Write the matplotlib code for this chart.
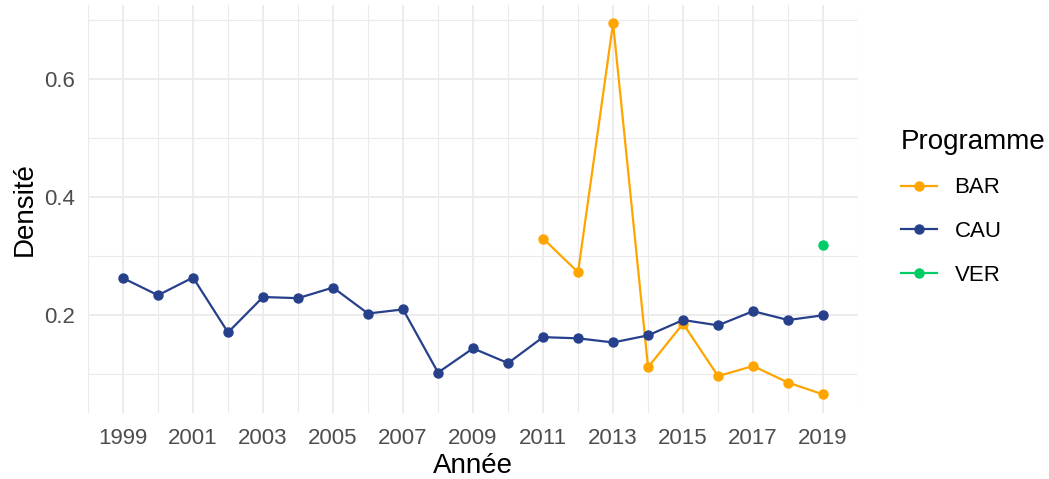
import numpy as np
from matplotlib import pyplot as plt
from matplotlib.ticker import MultipleLocator

plt.rcParams['font.family'] = ['Liberation Sans', 'DejaVu Sans']

annees = np.arange(1999, 2020)
cau = [0.263, 0.234, 0.264, 0.171, 0.231, 0.229, 0.247, 0.203, 0.210, 0.103,
       0.144, 0.119, 0.163, 0.161, 0.154, 0.166, 0.192, 0.183, 0.207, 0.192, 0.200]
annees_bar = np.arange(2011, 2020)
bar = [0.330, 0.273, 0.695, 0.112, 0.186, 0.097, 0.114, 0.086, 0.066]
annees_ver = [2019]
ver = [0.319]

couleurs = {'BAR': '#FFA500', 'CAU': '#27408B', 'VER': '#00CD66'}

fig = plt.figure(figsize=(10.49, 4.79), dpi=100)
ax = fig.add_axes([0.0839, 0.1378, 0.818 - 0.0839, 0.9906 - 0.1378])

series = [('BAR', annees_bar, bar), ('CAU', annees, cau), ('VER', annees_ver, ver)]
for nom, x, y in series:
    ax.plot(x, y, color=couleurs[nom], lw=1.6, marker='o', ms=6.5,
            label=nom, zorder=3)

ax.set_xlim(1998, 2020)
ax.set_ylim(0.0345, 0.7265)
ax.set_xticks(np.arange(1999, 2020, 2))
ax.xaxis.set_minor_locator(MultipleLocator(1))
ax.set_yticks([0.2, 0.4, 0.6])
ax.set_yticklabels(['0.2', '0.4', '0.6'])
ax.yaxis.set_minor_locator(MultipleLocator(0.1))

ax.grid(which='major', color='#EBEBEB', lw=1.3, zorder=0)
ax.grid(which='minor', color='#EBEBEB', lw=0.8, zorder=0)
ax.set_axisbelow(True)
for s in ax.spines.values():
    s.set_visible(False)
ax.tick_params(which='both', length=0, labelsize=16, labelcolor='#4D4D4D')
ax.tick_params(axis='x', pad=10.5)
ax.tick_params(axis='y', pad=9.5)

ax.set_xlabel('Année', fontsize=20, labelpad=3)
ax.set_ylabel('Densité', fontsize=20, labelpad=4.5)

leg = ax.legend(title='Programme', loc='upper left', bbox_to_anchor=(1.03, 0.745),
                frameon=False, fontsize=16, title_fontsize=20, handlelength=1.6,
                handletextpad=0.8, labelspacing=1.02)
leg._legend_box.align = 'left'

fig.savefig('out.png', dpi=100)
